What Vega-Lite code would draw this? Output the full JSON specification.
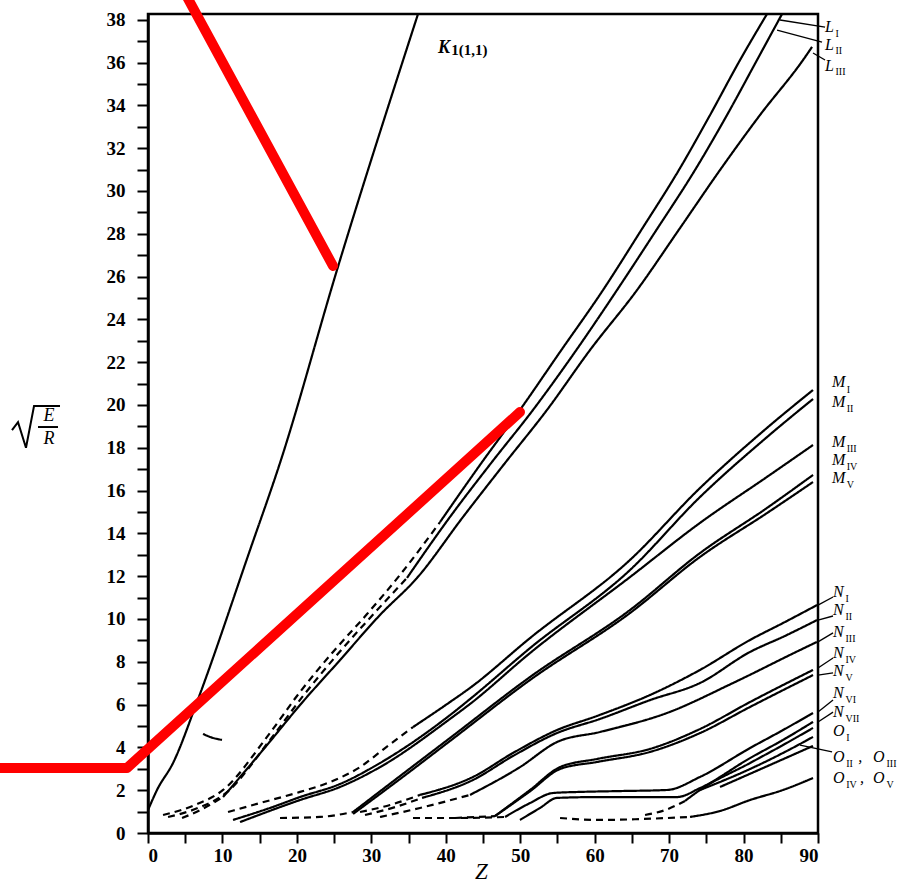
{
  "$schema": "https://vega.github.io/schema/vega-lite/v6.json",
  "width": 670,
  "height": 819,
  "autosize": {"type": "none"},
  "padding": {"left": 148, "top": 14, "right": 97, "bottom": 51},
  "background": "white",
  "config": {"view": {"stroke": "black", "strokeWidth": 2.5}, "font": "Liberation Serif"},
  "datasets": {
    "levels": [
      {"seg":"K","trace":"measured","z":0,"v":1.07},{"seg":"K","trace":"measured","z":1.21,"v":2.01},{"seg":"K","trace":"measured","z":3.36,"v":3.27},{"seg":"K","trace":"measured","z":6.58,"v":6.12},{"seg":"K","trace":"measured","z":13.7,"v":13.22},{"seg":"K","trace":"measured","z":17.73,"v":17.29},{"seg":"K","trace":"measured","z":25.39,"v":26.31},{"seg":"K","trace":"measured","z":36.27,"v":38.27},
      {"seg":"L1d","trace":"extrapolated","z":2.02,"v":0.84},{"seg":"L1d","trace":"extrapolated","z":6.31,"v":1.31},{"seg":"L1d","trace":"extrapolated","z":10.08,"v":2.01},{"seg":"L1d","trace":"extrapolated","z":15.99,"v":4.49},{"seg":"L1d","trace":"extrapolated","z":20.42,"v":6.59},{"seg":"L1d","trace":"extrapolated","z":24.85,"v":8.46},{"seg":"L1d","trace":"extrapolated","z":29.42,"v":10.23},{"seg":"L1d","trace":"extrapolated","z":33.85,"v":12.06},{"seg":"L1d","trace":"extrapolated","z":39.23,"v":14.53},
      {"seg":"L1s","trace":"measured","z":39.23,"v":14.53},{"seg":"L1s","trace":"measured","z":44.6,"v":17.2},{"seg":"L1s","trace":"measured","z":49.97,"v":19.77},{"seg":"L1s","trace":"measured","z":55.35,"v":22.48},{"seg":"L1s","trace":"measured","z":61.12,"v":25.37},{"seg":"L1s","trace":"measured","z":66.09,"v":28.08},{"seg":"L1s","trace":"measured","z":71.47,"v":31.07},{"seg":"L1s","trace":"measured","z":75.5,"v":33.55},{"seg":"L1s","trace":"measured","z":79.53,"v":36.12},{"seg":"L1s","trace":"measured","z":83.15,"v":38.27},
      {"seg":"L2d","trace":"extrapolated","z":2.69,"v":0.75},{"seg":"L2d","trace":"extrapolated","z":6.72,"v":1.17},{"seg":"L2d","trace":"extrapolated","z":10.48,"v":1.87},{"seg":"L2d","trace":"extrapolated","z":16.39,"v":4.35},{"seg":"L2d","trace":"extrapolated","z":20.82,"v":6.4},{"seg":"L2d","trace":"extrapolated","z":25.26,"v":8.27},{"seg":"L2d","trace":"extrapolated","z":29.82,"v":10.05},{"seg":"L2d","trace":"extrapolated","z":34.79,"v":11.92},
      {"seg":"L2s","trace":"measured","z":34.79,"v":11.92},{"seg":"L2s","trace":"measured","z":40.57,"v":14.77},{"seg":"L2s","trace":"measured","z":46.21,"v":17.34},{"seg":"L2s","trace":"measured","z":51.72,"v":19.77},{"seg":"L2s","trace":"measured","z":57.36,"v":22.48},{"seg":"L2s","trace":"measured","z":63.0,"v":25.37},{"seg":"L2s","trace":"measured","z":68.11,"v":28.08},{"seg":"L2s","trace":"measured","z":73.48,"v":30.98},{"seg":"L2s","trace":"measured","z":77.78,"v":33.55},{"seg":"L2s","trace":"measured","z":81.81,"v":36.12},{"seg":"L2s","trace":"measured","z":85.17,"v":38.27},
      {"seg":"L3d","trace":"extrapolated","z":4.57,"v":0.7},{"seg":"L3d","trace":"extrapolated","z":6.99,"v":1.07},{"seg":"L3d","trace":"extrapolated","z":10.08,"v":1.68},
      {"seg":"L3s","trace":"measured","z":10.08,"v":1.68},{"seg":"L3s","trace":"measured","z":15.99,"v":4.11},{"seg":"L3s","trace":"measured","z":20.42,"v":5.98},{"seg":"L3s","trace":"measured","z":25.79,"v":8.08},{"seg":"L3s","trace":"measured","z":31.17,"v":10.19},{"seg":"L3s","trace":"measured","z":36.14,"v":11.92},{"seg":"L3s","trace":"measured","z":42.32,"v":14.77},{"seg":"L3s","trace":"measured","z":47.96,"v":17.29},{"seg":"L3s","trace":"measured","z":53.6,"v":19.77},{"seg":"L3s","trace":"measured","z":59.38,"v":22.57},{"seg":"L3s","trace":"measured","z":65.69,"v":25.37},{"seg":"L3s","trace":"measured","z":71.47,"v":28.27},{"seg":"L3s","trace":"measured","z":76.84,"v":30.98},{"seg":"L3s","trace":"measured","z":82.21,"v":33.55},{"seg":"L3s","trace":"measured","z":87.99,"v":36.12},{"seg":"L3s","trace":"measured","z":89.2,"v":36.73},
      {"seg":"M1d","trace":"extrapolated","z":10.75,"v":0.98},{"seg":"M1d","trace":"extrapolated","z":15.05,"v":1.4},{"seg":"M1d","trace":"extrapolated","z":20.42,"v":1.92},{"seg":"M1d","trace":"extrapolated","z":24.45,"v":2.38},{"seg":"M1d","trace":"extrapolated","z":28.48,"v":3.08},{"seg":"M1d","trace":"extrapolated","z":31.84,"v":3.97},{"seg":"M1d","trace":"extrapolated","z":35.6,"v":4.95},
      {"seg":"M1s","trace":"measured","z":35.6,"v":4.95},{"seg":"M1s","trace":"measured","z":40.57,"v":6.12},{"seg":"M1s","trace":"measured","z":43.26,"v":6.78},{"seg":"M1s","trace":"measured","z":51.32,"v":9.11},{"seg":"M1s","trace":"measured","z":64.75,"v":12.76},{"seg":"M1s","trace":"measured","z":74.15,"v":16.12},{"seg":"M1s","trace":"measured","z":83.15,"v":18.93},{"seg":"M1s","trace":"measured","z":89.33,"v":20.7},
      {"seg":"M2","trace":"measured","z":11.42,"v":0.61},{"seg":"M2","trace":"measured","z":16.39,"v":1.17},{"seg":"M2","trace":"measured","z":20.42,"v":1.68},{"seg":"M2","trace":"measured","z":25.79,"v":2.29},{"seg":"M2","trace":"measured","z":31.17,"v":3.27},{"seg":"M2","trace":"measured","z":40.57,"v":5.51},{"seg":"M2","trace":"measured","z":43.26,"v":6.26},{"seg":"M2","trace":"measured","z":51.32,"v":8.64},{"seg":"M2","trace":"measured","z":64.75,"v":12.29},{"seg":"M2","trace":"measured","z":74.15,"v":15.7},{"seg":"M2","trace":"measured","z":83.15,"v":18.5},{"seg":"M2","trace":"measured","z":89.33,"v":20.28},
      {"seg":"M3","trace":"measured","z":12.36,"v":0.51},{"seg":"M3","trace":"measured","z":20.42,"v":1.54},{"seg":"M3","trace":"measured","z":25.79,"v":2.15},{"seg":"M3","trace":"measured","z":31.17,"v":3.08},{"seg":"M3","trace":"measured","z":40.57,"v":5.33},{"seg":"M3","trace":"measured","z":43.26,"v":6.03},{"seg":"M3","trace":"measured","z":51.32,"v":8.41},{"seg":"M3","trace":"measured","z":64.75,"v":11.96},{"seg":"M3","trace":"measured","z":74.15,"v":14.49},{"seg":"M3","trace":"measured","z":83.15,"v":16.64},{"seg":"M3","trace":"measured","z":89.33,"v":18.13},
      {"seg":"M4d","trace":"extrapolated","z":17.73,"v":0.7},{"seg":"M4d","trace":"extrapolated","z":23.11,"v":0.75},{"seg":"M4d","trace":"extrapolated","z":27.54,"v":0.98},
      {"seg":"M4s","trace":"measured","z":27.54,"v":0.98},{"seg":"M4s","trace":"measured","z":33.85,"v":2.66},{"seg":"M4s","trace":"measured","z":40.57,"v":4.44},{"seg":"M4s","trace":"measured","z":51.32,"v":7.29},{"seg":"M4s","trace":"measured","z":64.75,"v":10.42},{"seg":"M4s","trace":"measured","z":74.15,"v":13.08},{"seg":"M4s","trace":"measured","z":83.15,"v":15.19},{"seg":"M4s","trace":"measured","z":89.33,"v":16.73},
      {"seg":"M5","trace":"measured","z":27.54,"v":0.89},{"seg":"M5","trace":"measured","z":33.85,"v":2.52},{"seg":"M5","trace":"measured","z":40.57,"v":4.3},{"seg":"M5","trace":"measured","z":51.32,"v":7.15},{"seg":"M5","trace":"measured","z":64.75,"v":10.28},{"seg":"M5","trace":"measured","z":74.15,"v":12.9},{"seg":"M5","trace":"measured","z":83.15,"v":14.95},{"seg":"M5","trace":"measured","z":89.33,"v":16.4},
      {"seg":"N1d","trace":"extrapolated","z":28.48,"v":0.98},{"seg":"N1d","trace":"extrapolated","z":32.51,"v":1.31},{"seg":"N1d","trace":"extrapolated","z":36.54,"v":1.78},
      {"seg":"N1s","trace":"measured","z":36.54,"v":1.78},{"seg":"N1s","trace":"measured","z":43.66,"v":2.62},{"seg":"N1s","trace":"measured","z":49.03,"v":3.74},{"seg":"N1s","trace":"measured","z":54.94,"v":4.81},{"seg":"N1s","trace":"measured","z":60.32,"v":5.47},{"seg":"N1s","trace":"measured","z":67.44,"v":6.45},{"seg":"N1s","trace":"measured","z":74.15,"v":7.62},{"seg":"N1s","trace":"measured","z":80.87,"v":9.02},{"seg":"N1s","trace":"measured","z":85.57,"v":9.86},{"seg":"N1s","trace":"measured","z":89.87,"v":10.65},
      {"seg":"N2d","trace":"extrapolated","z":29.15,"v":0.84},{"seg":"N2d","trace":"extrapolated","z":33.18,"v":1.21},{"seg":"N2d","trace":"extrapolated","z":36.81,"v":1.64},
      {"seg":"N2s","trace":"measured","z":36.81,"v":1.64},{"seg":"N2s","trace":"measured","z":43.66,"v":2.48},{"seg":"N2s","trace":"measured","z":49.03,"v":3.6},{"seg":"N2s","trace":"measured","z":54.94,"v":4.67},{"seg":"N2s","trace":"measured","z":60.72,"v":5.33},{"seg":"N2s","trace":"measured","z":67.44,"v":6.21},{"seg":"N2s","trace":"measured","z":74.15,"v":7.01},{"seg":"N2s","trace":"measured","z":80.87,"v":8.46},{"seg":"N2s","trace":"measured","z":85.57,"v":9.21},{"seg":"N2s","trace":"measured","z":89.87,"v":9.95},
      {"seg":"N3d","trace":"extrapolated","z":31.17,"v":0.75},{"seg":"N3d","trace":"extrapolated","z":36.54,"v":1.17},{"seg":"N3d","trace":"extrapolated","z":43.26,"v":1.78},
      {"seg":"N3s","trace":"measured","z":43.26,"v":1.78},{"seg":"N3s","trace":"measured","z":49.97,"v":3.08},{"seg":"N3s","trace":"measured","z":54.94,"v":4.25},{"seg":"N3s","trace":"measured","z":60.72,"v":4.72},{"seg":"N3s","trace":"measured","z":69.72,"v":5.61},{"seg":"N3s","trace":"measured","z":78.59,"v":7.01},{"seg":"N3s","trace":"measured","z":87.59,"v":8.55},{"seg":"N3s","trace":"measured","z":89.87,"v":8.93},
      {"seg":"N4d","trace":"extrapolated","z":41.24,"v":0.7},{"seg":"N4d","trace":"extrapolated","z":46.61,"v":0.79},
      {"seg":"N4s","trace":"measured","z":46.61,"v":0.79},{"seg":"N4s","trace":"measured","z":51.32,"v":2.01},{"seg":"N4s","trace":"measured","z":55.35,"v":3.08},{"seg":"N4s","trace":"measured","z":60.32,"v":3.46},{"seg":"N4s","trace":"measured","z":67.44,"v":3.93},{"seg":"N4s","trace":"measured","z":74.15,"v":4.86},{"seg":"N4s","trace":"measured","z":80.87,"v":6.12},{"seg":"N4s","trace":"measured","z":89.33,"v":7.62},
      {"seg":"N5","trace":"measured","z":46.61,"v":0.79},{"seg":"N5","trace":"measured","z":51.32,"v":1.95},{"seg":"N5","trace":"measured","z":55.35,"v":2.99},{"seg":"N5","trace":"measured","z":60.32,"v":3.32},{"seg":"N5","trace":"measured","z":67.44,"v":3.79},{"seg":"N5","trace":"measured","z":74.15,"v":4.67},{"seg":"N5","trace":"measured","z":80.87,"v":5.89},{"seg":"N5","trace":"measured","z":89.33,"v":7.38},
      {"seg":"N6d","trace":"extrapolated","z":35.6,"v":0.7},{"seg":"N6d","trace":"extrapolated","z":41.91,"v":0.7},{"seg":"N6d","trace":"extrapolated","z":47.96,"v":0.75},
      {"seg":"N6s","trace":"measured","z":47.96,"v":0.75},{"seg":"N6s","trace":"measured","z":51.32,"v":1.4},{"seg":"N6s","trace":"measured","z":54.41,"v":1.87},{"seg":"N6s","trace":"measured","z":58.03,"v":1.92},{"seg":"N6s","trace":"measured","z":63.41,"v":1.96},{"seg":"N6s","trace":"measured","z":69.72,"v":2.01},{"seg":"N6s","trace":"measured","z":74.15,"v":2.62},{"seg":"N6s","trace":"measured","z":80.87,"v":3.97},{"seg":"N6s","trace":"measured","z":85.3,"v":4.81},{"seg":"N6s","trace":"measured","z":89.33,"v":5.61},
      {"seg":"N7","trace":"measured","z":49.97,"v":0.61},{"seg":"N7","trace":"measured","z":52.66,"v":1.17},{"seg":"N7","trace":"measured","z":54.94,"v":1.64},{"seg":"N7","trace":"measured","z":60.72,"v":1.68},{"seg":"N7","trace":"measured","z":71.06,"v":1.68},{"seg":"N7","trace":"measured","z":74.15,"v":2.1},{"seg":"N7","trace":"measured","z":80.87,"v":3.5},{"seg":"N7","trace":"measured","z":85.3,"v":4.35},{"seg":"N7","trace":"measured","z":89.33,"v":5.19},
      {"seg":"O1d","trace":"extrapolated","z":66.77,"v":0.84},{"seg":"O1d","trace":"extrapolated","z":69.45,"v":1.07},{"seg":"O1d","trace":"extrapolated","z":72.14,"v":1.5},
      {"seg":"O1s","trace":"measured","z":72.14,"v":1.5},{"seg":"O1s","trace":"measured","z":74.15,"v":2.01},{"seg":"O1s","trace":"measured","z":80.87,"v":3.27},{"seg":"O1s","trace":"measured","z":85.3,"v":4.11},{"seg":"O1s","trace":"measured","z":89.33,"v":4.91},
      {"seg":"O2","trace":"measured","z":74.15,"v":2.01},{"seg":"O2","trace":"measured","z":80.87,"v":2.99},{"seg":"O2","trace":"measured","z":85.3,"v":3.74},{"seg":"O2","trace":"measured","z":89.33,"v":4.49},
      {"seg":"O3","trace":"measured","z":76.84,"v":2.15},{"seg":"O3","trace":"measured","z":83.56,"v":3.18},{"seg":"O3","trace":"measured","z":89.33,"v":4.07},
      {"seg":"O4d","trace":"extrapolated","z":55.35,"v":0.7},{"seg":"O4d","trace":"extrapolated","z":60.72,"v":0.61},{"seg":"O4d","trace":"extrapolated","z":66.09,"v":0.65},{"seg":"O4d","trace":"extrapolated","z":72.81,"v":0.75},
      {"seg":"O4s","trace":"measured","z":72.81,"v":0.75},{"seg":"O4s","trace":"measured","z":76.84,"v":1.03},{"seg":"O4s","trace":"measured","z":80.87,"v":1.54},{"seg":"O4s","trace":"measured","z":85.3,"v":2.01},{"seg":"O4s","trace":"measured","z":89.33,"v":2.57},
      {"seg":"stray","trace":"measured","z":7.39,"v":4.63},{"seg":"stray","trace":"measured","z":8.33,"v":4.49},{"seg":"stray","trace":"measured","z":9.94,"v":4.35}
    ],
    "leaders": [
      {"seg":"LL1","z":84.9,"v":37.99},{"seg":"LL1","z":90.95,"v":37.66},
      {"seg":"LL2","z":84.5,"v":37.52},{"seg":"LL2","z":90.54,"v":36.96},
      {"seg":"LL3","z":89.33,"v":36.45},{"seg":"LL3","z":90.95,"v":36.12},
      {"seg":"NL1","z":90.0,"v":10.65},{"seg":"NL1","z":92.02,"v":11.03},
      {"seg":"NL2","z":90.0,"v":9.95},{"seg":"NL2","z":92.02,"v":10.14},
      {"seg":"NL3","z":90.0,"v":8.93},{"seg":"NL3","z":92.02,"v":9.35},
      {"seg":"NL4","z":90.0,"v":7.71},{"seg":"NL4","z":92.02,"v":8.18},
      {"seg":"NL5","z":90.0,"v":7.38},{"seg":"NL5","z":92.02,"v":7.48},
      {"seg":"NL6","z":90.0,"v":5.65},{"seg":"NL6","z":92.02,"v":6.21},
      {"seg":"NL7","z":90.0,"v":5.19},{"seg":"NL7","z":92.02,"v":5.65},
      {"seg":"OL23","z":87.59,"v":4.11},{"seg":"OL23","z":91.89,"v":3.79}
    ],
    "glyphs": [
      {"seg":"root","z":-18.27,"v":18.83},{"seg":"root","z":-17.46,"v":19.2},{"seg":"root","z":-16.39,"v":18.0},{"seg":"root","z":-15.31,"v":19.95},{"seg":"root","z":-11.82,"v":19.95},
      {"seg":"bar","z":-14.78,"v":18.97},{"seg":"bar","z":-12.09,"v":18.97}
    ],
    "red": [
      {"seg":"r1","z":5.24,"v":39.07},{"seg":"r1","z":24.85,"v":26.5},
      {"seg":"r2","z":-20.55,"v":3.04},{"seg":"r2","z":-2.82,"v":3.04},{"seg":"r2","z":49.97,"v":19.67}
    ],
    "letters": [
      {"t":"L","z":90.95,"v":37.64},{"t":"L","z":90.95,"v":36.82},{"t":"L","z":90.95,"v":35.84},
      {"t":"M","z":91.89,"v":21.07},{"t":"M","z":91.89,"v":20.14},{"t":"M","z":91.89,"v":18.26},{"t":"M","z":91.89,"v":17.41},{"t":"M","z":91.89,"v":16.57},
      {"t":"N","z":92.02,"v":11.28},{"t":"N","z":92.02,"v":10.42},{"t":"N","z":92.02,"v":9.39},{"t":"N","z":92.02,"v":8.41},{"t":"N","z":92.02,"v":7.57},{"t":"N","z":92.02,"v":6.54},{"t":"N","z":92.02,"v":5.65},
      {"t":"O","z":92.02,"v":4.77},{"t":"O","z":92.02,"v":3.55},{"t":"O","z":92.02,"v":2.57},
      {"t":",","z":95.4,"v":3.55},{"t":",","z":95.65,"v":2.57},
      {"t":"O","z":97.4,"v":3.55},{"t":"O","z":97.4,"v":2.57}
    ],
    "kletter": [{"t":"K","z":38.96,"v":36.68}],
    "subs": [
      {"t":"I","z":92.35,"v":37.34},{"t":"II","z":92.35,"v":36.52},{"t":"III","z":92.35,"v":35.54},
      {"t":"I","z":93.85,"v":20.72},{"t":"II","z":93.85,"v":19.8},{"t":"III","z":93.85,"v":17.93},{"t":"IV","z":93.85,"v":17.1},{"t":"V","z":93.85,"v":16.25},
      {"t":"I","z":93.7,"v":10.95},{"t":"II","z":93.7,"v":10.09},{"t":"III","z":93.7,"v":9.07},{"t":"IV","z":93.7,"v":8.09},{"t":"V","z":93.7,"v":7.26},{"t":"VI","z":93.7,"v":6.22},{"t":"VII","z":93.7,"v":5.33},
      {"t":"I","z":93.8,"v":4.45},{"t":"II","z":93.8,"v":3.24},{"t":"III","z":99.2,"v":3.24},{"t":"IV","z":93.8,"v":2.26},{"t":"V","z":99.2,"v":2.26}
    ],
    "ksub": [{"t":"1(1,1)","z":40.75,"v":36.6}],
    "ytitle": [{"t":"E","z":-13.3,"v":19.47},{"t":"R","z":-13.3,"v":18.4}]
  },
  "encoding": {
    "x": {"field":"z","type":"quantitative","scale":{"domain":[0,90],"nice":false,"zero":false},
      "axis":{"values":[0,5,10,15,20,25,30,35,40,45,50,55,60,65,70,75,80,85,90],"labelExpr":"datum.value % 10 === 0 ? datum.label : ''","labelOverlap":false,"grid":false,"domainColor":"black","domainWidth":2.5,"tickColor":"black","tickWidth":2,"tickSize":10,"labelPadding":3,"labelFont":"Liberation Serif","labelFontWeight":"bold","labelFontSize":19,"labelColor":"black","title":"Z","titleFont":"Liberation Serif","titleFontStyle":"italic","titleFontWeight":"normal","titleFontSize":23,"titleColor":"black","titleBaseline":"bottom","titleY":50,"titleX":333}},
    "y": {"field":"v","type":"quantitative","scale":{"domain":[0,38.27],"nice":false,"zero":false},
      "axis":{"values":[0,1,2,3,4,5,6,7,8,9,10,11,12,13,14,15,16,17,18,19,20,21,22,23,24,25,26,27,28,29,30,31,32,33,34,35,36,37,38],"labelExpr":"datum.value % 2 === 0 ? datum.label : ''","labelOverlap":false,"grid":false,"domainColor":"black","domainWidth":2.5,"tickColor":"black","tickWidth":2,"tickSize":11,"labelPadding":12,"labelFont":"Liberation Serif","labelFontWeight":"bold","labelFontSize":19,"labelColor":"black","title":null}}
  },
  "layer": [
    {"data":{"name":"levels"},"mark":{"type":"line","color":"black","strokeWidth":2.2,"interpolate":"monotone"},
     "encoding":{"detail":{"field":"seg","type":"nominal"},"strokeDash":{"field":"trace","type":"nominal","scale":{"domain":["measured","extrapolated"],"range":[[1,0],[7,5]]},"legend":null}}},
    {"data":{"name":"leaders"},"mark":{"type":"line","color":"black","strokeWidth":1.3},
     "encoding":{"detail":{"field":"seg","type":"nominal"}}},
    {"data":{"name":"glyphs"},"mark":{"type":"line","color":"black","strokeWidth":2},
     "encoding":{"detail":{"field":"seg","type":"nominal"}}},
    {"data":{"name":"letters"},"mark":{"type":"text","font":"Liberation Serif","fontStyle":"italic","fontSize":16,"align":"left","baseline":"middle","color":"black"},
     "encoding":{"text":{"field":"t","type":"nominal"}}},
    {"data":{"name":"kletter"},"mark":{"type":"text","font":"Liberation Serif","fontStyle":"italic","fontWeight":"bold","fontSize":18,"align":"left","baseline":"middle","color":"black"},
     "encoding":{"text":{"field":"t","type":"nominal"}}},
    {"data":{"name":"subs"},"mark":{"type":"text","font":"Liberation Serif","fontSize":10,"align":"left","baseline":"middle","color":"black"},
     "encoding":{"text":{"field":"t","type":"nominal"}}},
    {"data":{"name":"ksub"},"mark":{"type":"text","font":"Liberation Serif","fontWeight":"bold","fontSize":15,"align":"left","baseline":"middle","color":"black"},
     "encoding":{"text":{"field":"t","type":"nominal"}}},
    {"data":{"name":"ytitle"},"mark":{"type":"text","font":"Liberation Serif","fontStyle":"italic","fontSize":18,"align":"center","baseline":"middle","color":"black"},
     "encoding":{"text":{"field":"t","type":"nominal"}}},
    {"data":{"name":"red"},"mark":{"type":"line","color":"#ff0000","strokeWidth":10,"strokeCap":"round","strokeJoin":"round"},
     "encoding":{"detail":{"field":"seg","type":"nominal"}}}
  ]
}
